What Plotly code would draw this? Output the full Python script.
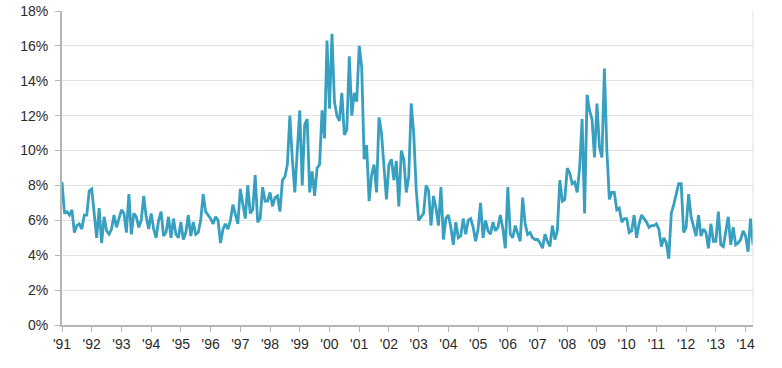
import plotly.graph_objects as go

years = list(range(1991, 2015))
tick_labels = ["'" + str(y)[2:] for y in years]

v1991 = [8.2, 6.4, 6.5, 6.3, 6.6, 5.3, 5.7, 5.8, 5.5, 6.3, 6.3, 7.7]
v1992 = [7.8, 6.2, 5.0, 6.7, 4.7, 6.2, 5.4, 5.2, 5.5, 6.3, 5.6, 6.1]
v1993 = [6.6, 6.4, 5.3, 7.5, 5.2, 6.4, 6.2, 5.6, 6.0, 7.4, 6.2, 5.5]
v1994 = [6.4, 5.5, 5.0, 6.0, 6.5, 5.1, 5.3, 6.2, 5.0, 6.1, 5.2, 5.0]
v1995 = [5.9, 4.9, 5.3, 6.3, 5.1, 5.9, 5.2, 5.3, 6.0, 7.5, 6.5, 6.3]
v1996 = [6.1, 5.8, 6.2, 6.0, 4.7, 5.5, 5.8, 5.5, 6.0, 6.9, 6.4, 5.8]
v1997 = [7.8, 6.8, 6.1, 8.0, 6.4, 6.6, 8.6, 5.9, 6.1, 7.9, 7.1, 7.1]
v1998 = [7.6, 6.8, 7.3, 7.4, 6.5, 8.3, 8.5, 9.2, 12.0, 9.5, 7.6, 10.0]
v1999 = [12.3, 8.0, 11.5, 11.8, 7.6, 8.8, 7.4, 9.0, 9.2, 12.3, 10.7, 16.3]
v2000 = [12.4, 16.7, 12.8, 12.0, 11.7, 13.3, 10.9, 11.2, 15.4, 12.0, 13.3, 12.8]
v2001 = [16.0, 14.8, 9.5, 10.3, 7.1, 8.6, 9.2, 7.6, 11.9, 11.0, 9.3, 7.2]
v2002 = [9.2, 9.5, 8.3, 9.4, 6.8, 10.0, 9.5, 7.6, 8.5, 12.7, 11.0, 7.8]
v2003 = [6.0, 6.2, 6.4, 8.0, 7.7, 5.7, 7.4, 6.7, 5.7, 7.9, 4.9, 6.1]
v2004 = [6.3, 5.6, 4.6, 5.9, 5.0, 5.1, 6.1, 5.2, 6.0, 6.1, 5.6, 4.8]
v2005 = [5.5, 7.0, 5.0, 6.0, 5.4, 5.2, 5.9, 5.4, 5.6, 6.3, 5.5, 4.4]
v2006 = [7.9, 5.2, 5.0, 5.7, 5.3, 4.8, 7.3, 5.8, 5.2, 5.3, 5.0, 4.9]
v2007 = [4.9, 4.7, 4.4, 5.2, 4.8, 4.5, 5.7, 4.9, 5.4, 8.3, 7.1, 7.2]
v2008 = [9.0, 8.7, 8.1, 8.2, 7.6, 9.0, 11.8, 6.4, 13.2, 12.3, 11.8, 9.6]
v2009 = [12.7, 10.2, 9.6, 14.7, 10.0, 7.2, 7.6, 7.6, 6.6, 6.7, 5.9, 6.1]
v2010 = [6.1, 5.3, 5.4, 6.3, 5.0, 5.8, 6.3, 6.1, 5.9, 5.6, 5.7, 5.7]
v2011 = [5.8, 5.5, 4.5, 5.0, 4.7, 3.8, 6.4, 6.9, 7.5, 8.1, 8.1, 5.3]
v2012 = [5.6, 7.5, 6.2, 5.6, 5.1, 6.3, 5.1, 5.5, 5.3, 4.4, 5.8, 4.8]
v2013 = [4.8, 6.5, 4.6, 4.5, 5.3, 6.2, 4.6, 5.6, 4.6, 4.7, 4.9, 5.4]
v2014 = [5.1, 4.2, 6.1, 4.6]

series = (v1991 + v1992 + v1993 + v1994 + v1995 + v1996 + v1997 + v1998 +
          v1999 + v2000 + v2001 + v2002 + v2003 + v2004 + v2005 + v2006 +
          v2007 + v2008 + v2009 + v2010 + v2011 + v2012 + v2013 + v2014)
x = [1991 + i / 12 for i in range(len(series))]
y = [v / 100 for v in series]

fig = go.Figure()
fig.add_trace(go.Scatter(x=x, y=y, mode="lines",
                         line=dict(color="#379fc0", width=2.8),
                         hoverinfo="skip"))

font = dict(family="Liberation Sans, Arial, sans-serif", size=14, color="#2b2b2b")

fig.update_layout(
    width=782, height=368,
    margin=dict(l=62, r=29, t=11, b=43),
    paper_bgcolor="white", plot_bgcolor="white",
    showlegend=False,
    font=font,
    xaxis=dict(range=[1991, 1991 + (len(series) - 1) / 12],
               tickvals=years, ticktext=tick_labels,
               showgrid=False, zeroline=False,
               showline=True, linecolor="#b5b5b5", linewidth=2,
               ticks="outside", ticklen=5, tickcolor="#b5b5b5", tickwidth=1,
               tickfont=font, automargin=False),
    yaxis=dict(range=[0, 0.18], dtick=0.02, tickformat=".0%",
               showgrid=True, gridcolor="#e2e2e2", gridwidth=1,
               zeroline=False,
               showline=True, linecolor="#b5b5b5", linewidth=2,
               ticks="outside", ticklen=5, tickcolor="#b5b5b5", tickwidth=1,
               ticklabelstandoff=4,
               tickfont=font, automargin=False),
    shapes=[dict(type="line", xref="paper", yref="paper", x0=1, x1=1, y0=0, y1=1,
                 line=dict(color="#e3e3e3", width=1))],
)

fig.write_html("out.html", config={"displayModeBar": False},
               post_script="document.body.style.margin='0px';")
